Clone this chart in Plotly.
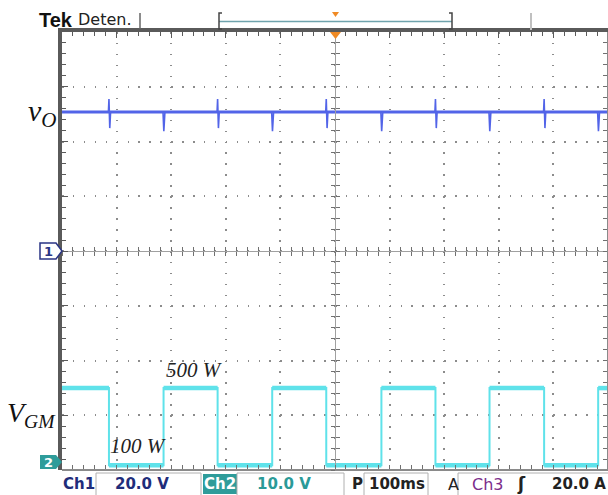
import plotly.graph_objects as go

# ---------------- data ----------------
time_range_ms = [-500, 500]            # 100 ms/div, 10 divisions
ch1_range_V = [-80, 80]                # 20 V/div, ground at centre
ch2_range_V = [-1.46, 78.54]           # 10 V/div, ground marker near bottom
vgm_falling_ms = [-414, -215, -16, 184, 383]
vgm_rising_ms = [-314, -115, 85, 283, 482]
vgm_high_V = 13.5
vgm_low_V = -0.6
vo_level_V = 50.8
vo_up_spike_dt_ms = [-1.0, 0.0, 1.5, 3.0]
vo_up_spike_V = [50.8, 55.5, 44.9, 50.8]
vo_down_spike_dt_ms = [-1.0, 0.5, 2.5]
vo_down_spike_V = [50.8, 43.8, 50.8]

# ---------------- build traces from data ----------------
edges = sorted([(t, "f") for t in vgm_falling_ms] + [(t, "r") for t in vgm_rising_ms])
gx, gy = [time_range_ms[0]], [vgm_high_V]
level = vgm_high_V
for t, k in edges:
    new = vgm_low_V if k == "f" else vgm_high_V
    gx += [t, t]
    gy += [level, new]
    level = new
gx.append(time_range_ms[1])
gy.append(level)

# horizontal (noisy, thicker) parts
hx, hy = [], []
for i in range(len(gx) - 1):
    if gy[i] == gy[i + 1] and gx[i] != gx[i + 1]:
        hx += [gx[i], gx[i + 1], None]
        hy += [gy[i], gy[i + 1], None]

sx, sy = [], []
for t in vgm_falling_ms:
    sx += [t + d for d in vo_up_spike_dt_ms] + [None]
    sy += vo_up_spike_V + [None]
for t in vgm_rising_ms:
    sx += [t + d for d in vo_down_spike_dt_ms] + [None]
    sy += vo_down_spike_V + [None]

VO_COLOR = "#5264e8"
VGM_COLOR = "#5fe2ea"

fig = go.Figure()
fig.add_trace(go.Scatter(x=gx, y=gy, mode="lines", line=dict(color=VGM_COLOR, width=2),
                         xaxis="x", yaxis="y2", hoverinfo="skip"))
fig.add_trace(go.Scatter(x=hx, y=hy, mode="lines", line=dict(color=VGM_COLOR, width=4.5),
                         xaxis="x", yaxis="y2", hoverinfo="skip"))
fig.add_trace(go.Scatter(x=time_range_ms, y=[vo_level_V, vo_level_V], mode="lines",
                         line=dict(color=VO_COLOR, width=3), xaxis="x", yaxis="y", hoverinfo="skip"))
fig.add_trace(go.Scatter(x=sx, y=sy, mode="lines", line=dict(color=VO_COLOR, width=1.6),
                         xaxis="x", yaxis="y", hoverinfo="skip"))
# empty traces so that the graticule helper axes are drawn
fig.add_trace(go.Scatter(x=[], y=[], xaxis="x2", yaxis="y3"))
fig.add_trace(go.Scatter(x=[], y=[], xaxis="x3", yaxis="y4"))
fig.add_trace(go.Scatter(x=[], y=[], xaxis="x4", yaxis="y5"))

L, T, W, H = 62, 32, 546, 438
def px(X):
    return (X - L) / W
def py(Y):
    return (T + H - Y) / H

GRID = "#8c8c8c"
BORDER = "#5a5a5a"
base_free = dict(showticklabels=False, showgrid=False, zeroline=False, fixedrange=True)

fig.update_layout(
    width=608, height=495,
    margin=dict(l=L, r=608 - L - W, t=T, b=495 - T - H),
    paper_bgcolor="white", plot_bgcolor="white", showlegend=False,
    xaxis=dict(range=time_range_ms, side="top", showline=True, linewidth=4, linecolor=BORDER,
               ticks="inside", ticklen=6, tickcolor=BORDER, dtick=100, tick0=0,
               showticklabels=False, showgrid=True, gridcolor=GRID, gridwidth=1.5,
               griddash="1.5px,9.45px", zeroline=False, fixedrange=True,
               minor=dict(dtick=20, tick0=0, ticks="inside", ticklen=4, tickcolor=BORDER, showgrid=False)),
    yaxis=dict(range=ch1_range_V, side="left", showline=True, linewidth=4, linecolor=BORDER,
               ticks="inside", ticklen=6, tickcolor=BORDER, dtick=20, tick0=0,
               showticklabels=False, showgrid=True, gridcolor=GRID, gridwidth=1.5,
               griddash="1.5px,9.42px", zeroline=False, fixedrange=True,
               minor=dict(dtick=4, tick0=0, ticks="inside", ticklen=4, tickcolor=BORDER, showgrid=False)),
    yaxis2=dict(range=ch2_range_V, overlaying="y", visible=False, fixedrange=True),
    xaxis2=dict(range=time_range_ms, overlaying="x", anchor="free", position=0.5, side="bottom",
                showline=True, linecolor="#a0a0a0", linewidth=1, ticks="inside", ticklen=4,
                tickcolor="#707070", dtick=20, tick0=0, **base_free),
    xaxis3=dict(range=time_range_ms, overlaying="x", anchor="free", position=0.5, side="bottom",
                showline=False, ticks="outside", ticklen=4,
                tickcolor="#707070", dtick=20, tick0=0, **base_free),
    xaxis4=dict(range=time_range_ms, overlaying="x", anchor="free", position=0.0, side="bottom",
                showline=True, linecolor="#8a8a8a", linewidth=1.5, ticks="inside", ticklen=4,
                tickcolor="#707070", dtick=20, tick0=0, **base_free),
    yaxis3=dict(range=ch1_range_V, overlaying="y", anchor="free", position=0.5, side="left",
                showline=True, linecolor="#a0a0a0", linewidth=1, ticks="inside", ticklen=4,
                tickcolor="#707070", dtick=4, tick0=0, **base_free),
    yaxis4=dict(range=ch1_range_V, overlaying="y", anchor="free", position=0.5, side="left",
                showline=False, ticks="outside", ticklen=4,
                tickcolor="#707070", dtick=4, tick0=0, **base_free),
    yaxis5=dict(range=ch1_range_V, overlaying="y", anchor="free", position=1.0, side="right",
                showline=True, linecolor="#8a8a8a", linewidth=1.5, ticks="inside", ticklen=4,
                tickcolor="#707070", dtick=4, tick0=0, **base_free),
)

shapes = []
def path_shape(pts, fill=None, line=None, lw=1.5, closed=True):
    d = "M" + " L".join(f"{px(a):.5f},{py(b):.5f}" for a, b in pts) + (" Z" if closed else "")
    s = dict(type="path", xref="paper", yref="paper", path=d, layer="above",
             line=dict(color=line or "rgba(0,0,0,0)", width=lw if line else 0))
    if fill:
        s["fillcolor"] = fill
    return s

def rect(x0, y0, x1, y1, fill=None, line=None, lw=1):
    s = dict(type="rect", xref="paper", yref="paper", x0=px(x0), x1=px(x1), y0=py(y1), y1=py(y0),
             layer="above", line=dict(color=line or "rgba(0,0,0,0)", width=lw if line else 0))
    if fill:
        s["fillcolor"] = fill
    return s

ORANGE = "#f08a24"
# top status bar
shapes.append(path_shape([(140, 13), (140, 29)], line="#666666", lw=1.5, closed=False))
shapes.append(path_shape([(219, 21.5), (452, 21.5)], line="#6fa3ad", lw=1.5, closed=False))
shapes.append(path_shape([(222, 13), (219, 13), (219, 29), (222, 29)], line="#444444", lw=1.5, closed=False))
shapes.append(path_shape([(449, 13), (452, 13), (452, 29), (449, 29)], line="#444444", lw=1.5, closed=False))
shapes.append(path_shape([(332, 12), (339, 12), (335.5, 17)], fill=ORANGE))
shapes.append(path_shape([(531, 13), (531, 30)], line="#c0c0c0", lw=2, closed=False))
shapes.append(path_shape([(330, 32), (341, 32), (335.5, 39)], fill=ORANGE))
# channel markers
shapes.append(path_shape([(40, 243), (56, 243), (62, 251), (56, 259), (40, 259)], fill="white", line="#2a3585", lw=1.5))
shapes.append(path_shape([(40, 455), (56, 455), (62, 462), (56, 469), (40, 469)], fill="#2e9c9a"))
# bottom status bar boxes
shapes.append(rect(96, 473, 201, 497, line="#b0b0b0"))
shapes.append(rect(203, 474, 237, 494, fill="#2e9c9a"))
shapes.append(rect(237, 473, 344, 497, line="#b0b0b0"))
shapes.append(rect(364, 473, 428, 497, line="#b0b0b0"))
shapes.append(rect(458, 473, 612, 497, line="#b0b0b0"))
fig.update_layout(shapes=shapes)

ann = []
def text(X, Y, s, size, color="#111111", family="DejaVu Sans", xanchor="left"):
    ann.append(dict(x=px(X), y=py(Y), xref="paper", yref="paper", text=s, showarrow=False,
                    xanchor=xanchor, yanchor="middle", font=dict(size=size, color=color, family=family)))

NAVY = "#1f2d7a"
TEAL = "#2a9a98"
text(37, 20, "<b>Tek</b>", 20, "#111111", "Liberation Sans")
text(76, 20, "Deten.", 16, "#222222")
text(59, 113, "<i>v</i><sub><i>O</i></sub>", 30, "#111111", "Liberation Serif", "right")
text(58, 414, "<i>V</i><sub><i>GM</i></sub>", 28, "#111111", "Liberation Serif", "right")
text(194, 370, "<i>500 W</i>", 21, "#222222", "Liberation Serif", "center")
text(138, 446, "<i>100 W</i>", 21, "#222222", "Liberation Serif", "center")
text(48, 251, "<b>1</b>", 13, "#2a3585", xanchor="center")
text(48, 462, "<b>2</b>", 13, "white", xanchor="center")
text(61, 484, "<b>Ch1</b>", 15, NAVY)
text(113, 484, "<b>20.0 V</b>", 15, NAVY)
text(220, 484, "<b>Ch2</b>", 15, "white", xanchor="center")
text(255, 484, "<b>10.0 V</b>", 15, TEAL)
text(350, 484, "<b>P</b>", 15, "#222222")
text(367, 484, "<b>100ms</b>", 15, "#222222")
text(446, 484, "A", 16, "#222222")
text(470, 484, "Ch3", 16, "#7b2d8b")
text(515, 484, "<b>ʃ</b>", 17, "#222222")
text(550, 484, "<b>20.0 A</b>", 15, "#222222")
fig.update_layout(annotations=ann)

fig.write_html("out.html", config={"displayModeBar": False},
               post_script="document.body.style.margin='0px';document.body.style.padding='0px';")
